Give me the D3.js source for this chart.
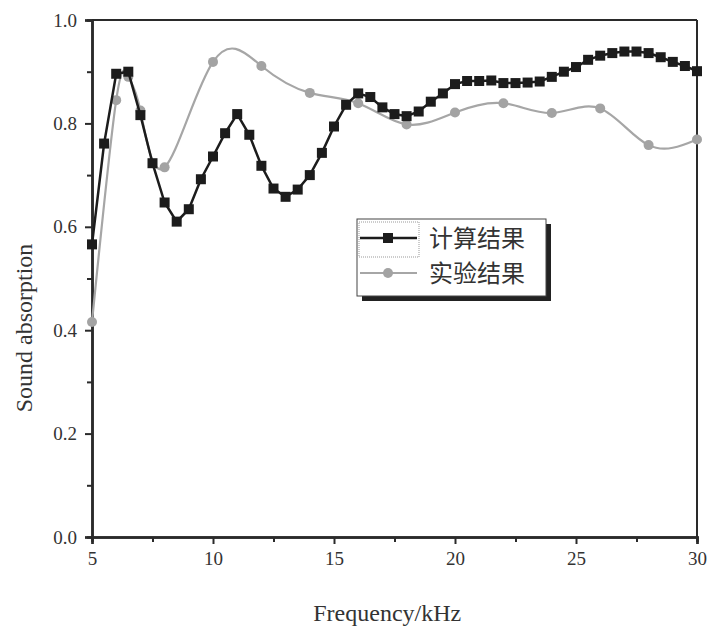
<!DOCTYPE html>
<html>
<head>
<meta charset="utf-8">
<script src="https://cdn.jsdelivr.net/npm/d3@7"></script>
<style>
  body { margin: 0; background: #fff; }
</style>
</head>
<body>
<div id="chart"></div>
<script>
// 计算结果 (calculated) - every 0.5 kHz
const calcFreq = [5, 5.5, 6, 6.5, 7, 7.5, 8, 8.5, 9, 9.5, 10, 10.5, 11, 11.5, 12, 12.5,
  13, 13.5, 14, 14.5, 15, 15.5, 16, 16.5, 17, 17.5, 18, 18.5, 19, 19.5, 20, 20.5,
  21, 21.5, 22, 22.5, 23, 23.5, 24, 24.5, 25, 25.5, 26, 26.5, 27, 27.5, 28, 28.5,
  29, 29.5, 30];
const calcValues = [0.566, 0.761, 0.896, 0.900, 0.816, 0.723, 0.647, 0.610, 0.634, 0.692,
  0.736, 0.781, 0.818, 0.778, 0.718, 0.674, 0.658, 0.672, 0.700, 0.743, 0.794, 0.836,
  0.858, 0.851, 0.831, 0.818, 0.814, 0.823, 0.842, 0.858, 0.876, 0.882, 0.882, 0.883,
  0.878, 0.878, 0.879, 0.881, 0.890, 0.900, 0.909, 0.923, 0.931, 0.936, 0.939, 0.939,
  0.936, 0.928, 0.919, 0.911, 0.901];

// 实验结果 (measured)
const expFreq = [5, 6, 6.5, 7, 8, 10, 12, 14, 16, 18, 20, 22, 24, 26, 28, 30];
const expValues = [0.416, 0.845, 0.890, 0.825, 0.715, 0.919, 0.911, 0.859, 0.839, 0.798,
  0.821, 0.839, 0.820, 0.829, 0.758, 0.769];

const xTicks = [5, 10, 15, 20, 25, 30];
const xMinor = [7.5, 12.5, 17.5, 22.5, 27.5];
const yTicks = [0, 0.2, 0.4, 0.6, 0.8, 1.0];
const yMinor = [0.1, 0.3, 0.5, 0.7, 0.9];
const seriesNames = ['计算结果', '实验结果'];

const serif = "'Liberation Serif', 'Times New Roman', serif";
const width = 709;
const height = 633;
const margin = { top: 20, left: 92, bottom: 96, right: 12 };
const iwidth = width - margin.left - margin.right;
const iheight = height - margin.top - margin.bottom;

const svg = d3.select('#chart').append('svg')
  .attr('width', width)
  .attr('height', height);

const g = svg.append('g')
  .attr('transform', `translate(${margin.left},${margin.top})`);

const x = d3.scaleLinear().domain([5, 30]).range([0, iwidth]);
const y = d3.scaleLinear().domain([0, 1]).range([iheight, 0]);

// frame top / right
g.append('line').attr('x1', 0).attr('x2', iwidth).attr('y1', 0).attr('y2', 0)
  .attr('stroke', '#2a2a2a').attr('stroke-width', 2);
g.append('line').attr('x1', iwidth).attr('x2', iwidth).attr('y1', 0).attr('y2', iheight)
  .attr('stroke', '#2a2a2a').attr('stroke-width', 2);

// axes
const styleAxis = (sel) => {
  sel.attr('font-family', serif);
  sel.select('.domain').attr('stroke', '#2a2a2a').attr('stroke-width', 2.5);
  sel.selectAll('.tick line').attr('stroke', '#2a2a2a').attr('stroke-width', 2);
  sel.selectAll('.tick text').attr('fill', '#333')
    .style('font-family', serif).style('font-size', '19px');
};

g.append('g')
  .attr('transform', `translate(0,${iheight})`)
  .call(d3.axisBottom(x).tickValues(xMinor).tickSize(5).tickFormat(''))
  .call(styleAxis);
g.append('g')
  .attr('transform', `translate(0,${iheight})`)
  .call(d3.axisBottom(x).tickValues(xTicks).tickSize(7).tickPadding(8).tickFormat(d3.format('d')))
  .call(styleAxis);

g.append('g')
  .call(d3.axisLeft(y).tickValues(yMinor).tickSize(5).tickFormat(''))
  .call(styleAxis);
g.append('g')
  .call(d3.axisLeft(y).tickValues(yTicks).tickSize(7).tickPadding(8).tickFormat(d3.format('.1f')))
  .call(styleAxis);

// axis titles
svg.append('text')
  .attr('x', margin.left + x(17.2))
  .attr('y', 621)
  .attr('text-anchor', 'middle')
  .attr('fill', '#333')
  .style('font-family', serif)
  .style('font-size', '24px')
  .text('Frequency/kHz');

svg.append('text')
  .attr('transform', 'translate(32,328) rotate(-90)')
  .attr('text-anchor', 'middle')
  .attr('fill', '#333')
  .style('font-family', serif)
  .style('font-size', '24px')
  .text('Sound absorption');

// calculated series: straight line + squares
const calc = calcFreq.map((f, i) => ({ f: f, v: calcValues[i] }));
const exp = expFreq.map((f, i) => ({ f: f, v: expValues[i] }));

// measured series: smooth curve + circles (drawn under the squares)
g.append('path')
  .datum(exp)
  .attr('fill', 'none')
  .attr('stroke', '#a6a6a6')
  .attr('stroke-width', 2.2)
  .attr('d', d3.line().x((d) => x(d.f)).y((d) => y(d.v)).curve(d3.curveNatural));

g.selectAll('circle.exp')
  .data(exp)
  .enter()
  .append('circle')
  .attr('class', 'exp')
  .attr('cx', (d) => x(d.f))
  .attr('cy', (d) => y(d.v))
  .attr('r', 5)
  .attr('fill', '#a3a3a3');

g.append('path')
  .datum(calc)
  .attr('fill', 'none')
  .attr('stroke', '#1c1c1c')
  .attr('stroke-width', 2.5)
  .attr('d', d3.line().x((d) => x(d.f)).y((d) => y(d.v)));

g.selectAll('rect.calc')
  .data(calc)
  .enter()
  .append('rect')
  .attr('class', 'calc')
  .attr('x', (d) => x(d.f) - 5)
  .attr('y', (d) => y(d.v) - 5)
  .attr('width', 10)
  .attr('height', 10)
  .attr('fill', '#1c1c1c');

// legend
const lg = svg.append('g').attr('transform', 'translate(357,219)');
lg.append('rect').attr('x', 5).attr('y', 5).attr('width', 189).attr('height', 77)
  .attr('fill', '#222');
lg.append('rect').attr('x', 0).attr('y', 0).attr('width', 189).attr('height', 77)
  .attr('fill', '#fff').attr('stroke', '#444').attr('stroke-width', 1);
lg.append('rect').attr('x', 2).attr('y', 3).attr('width', 60).attr('height', 35)
  .attr('fill', 'none').attr('stroke', '#999').attr('stroke-width', 1)
  .attr('stroke-dasharray', '1,1');

const rows = [
  { name: seriesNames[0], color: '#1c1c1c', shape: 'square', w: 2.5 },
  { name: seriesNames[1], color: '#a6a6a6', shape: 'circle', w: 2.2 }
];
rows.forEach((r, i) => {
  const cy = 19 + i * 35;
  lg.append('line').attr('x1', 3).attr('x2', 60).attr('y1', cy).attr('y2', cy)
    .attr('stroke', r.color).attr('stroke-width', r.w);
  if (r.shape === 'square') {
    lg.append('rect').attr('x', 26).attr('y', cy - 5).attr('width', 10).attr('height', 10)
      .attr('fill', r.color);
  } else {
    lg.append('circle').attr('cx', 31).attr('cy', cy).attr('r', 5).attr('fill', '#a3a3a3');
  }
  lg.append('text')
    .attr('x', 72)
    .attr('y', cy)
    .attr('dy', '0.36em')
    .attr('fill', '#333')
    .style('font-family', "'Noto Sans CJK SC', sans-serif")
    .style('font-size', '24px')
    .text(r.name);
});
</script>
</body>
</html>
